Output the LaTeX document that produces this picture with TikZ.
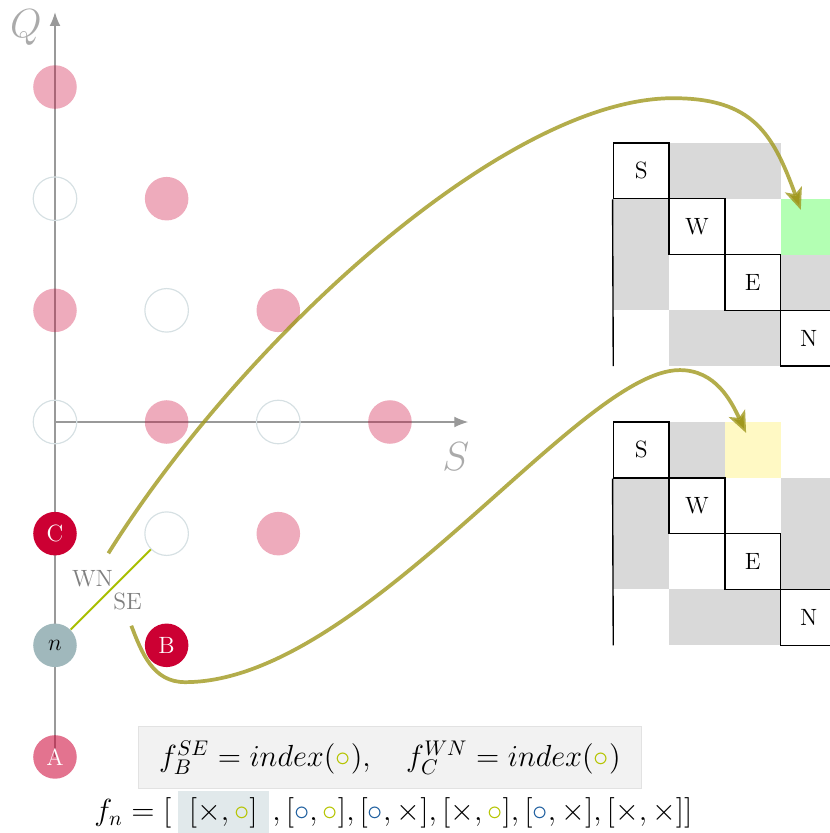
\documentclass[tikz,border=0pt]{standalone}
\usepackage{graphicx}
\usetikzlibrary{arrows.meta}
\definecolor{crim}{RGB}{204,0,51}
\definecolor{ngray}{RGB}{160,184,188}
\definecolor{emptyc}{RGB}{214,224,227}
\definecolor{axisc}{RGB}{153,153,153}
\definecolor{lblc}{RGB}{170,170,170}
\definecolor{olivec}{RGB}{160,152,30}
\definecolor{cellg}{RGB}{217,217,217}
\definecolor{cellgreen}{RGB}{179,255,179}
\definecolor{celly}{RGB}{255,249,196}
\definecolor{linec}{RGB}{168,190,0}
\definecolor{boxf}{RGB}{242,242,242}
\definecolor{boxd}{RGB}{226,226,226}
\definecolor{hlf}{RGB}{225,233,235}
\definecolor{cblue}{RGB}{31,95,159}
\definecolor{cgreen}{RGB}{181,196,0}
\definecolor{wngray}{RGB}{128,128,128}
\begin{document}
\begin{tikzpicture}[
  gpoint/.style={circle, minimum size=0.78cm, inner sep=0pt, font=\large},
  pinkpt/.style={gpoint, fill=crim, fill opacity=0.33},
  emptypt/.style={gpoint, draw=emptyc, line width=0.6pt},
  redpt/.style={gpoint, fill=crim, text=white},
  axis/.style={draw=axisc, line width=0.6pt, -{Latex[length=7pt,width=5.5pt]}},
  axlbl/.style={text=lblc, font=\huge},
  cellbox/.style={draw=black, line width=0.7pt, minimum size=1cm, inner sep=0pt, font=\large},
  curve/.style={draw=olivec, draw opacity=0.8, line width=1.9pt, -{Stealth[length=11pt,width=9pt,inset=2.5pt]}},
  nline/.style={draw=linec, line width=1pt},
  dirlbl/.style={text=wngray, font=\large, inner sep=0pt},
  fbox/.style={fill=boxf, draw=boxd, line width=0.6pt, minimum width=9cm, minimum height=1.1cm, inner sep=0pt, font=\Large},
  hlbox/.style={fill=hlf, minimum width=1.63cm, minimum height=0.79cm, inner sep=0pt, font=\Large},
  plain/.style={inner sep=0pt, font=\Large}
]
\clip (-0.985,-7.362) rectangle (13.88,7.559);
% axes
\coordinate (o) at (0,0);
\coordinate (xe) at (7.4,0);
\coordinate (yb) at (0,-6);
\coordinate (ye) at (0,7.34);
\draw[axis] (o) -- (xe);
\draw[axis] (yb) -- (ye);
\node[axlbl] (ql) at (-0.52,7.06) {$Q$};
\node[axlbl] (sl) at (7.18,-0.62) {$S$};
% lattice points
\node[pinkpt] (p06) at (0,6) {};
\node[emptypt] (e04) at (0,4) {};
\node[pinkpt] (p24) at (2,4) {};
\node[pinkpt] (p02) at (0,2) {};
\node[emptypt] (e22) at (2,2) {};
\node[pinkpt] (p42) at (4,2) {};
\node[emptypt] (e00) at (0,0) {};
\node[pinkpt] (p20) at (2,0) {};
\node[emptypt] (e40) at (4,0) {};
\node[pinkpt] (p60) at (6,0) {};
\node[redpt] (C) at (0,-2) {C};
\node[emptypt] (e2m2) at (2,-2) {};
\node[pinkpt] (p4m2) at (4,-2) {};
\node[gpoint, fill=ngray] (n) at (0,-4) {$n$};
\node[redpt] (B) at (2,-4) {B};
\node[gpoint, fill=crim, fill opacity=0.55, text=white, text opacity=1] (A) at (0,-6) {A};
% SE / WN link
\draw[nline] (n) -- (e2m2);
\node[dirlbl] (wn) at (0.672,-2.81) {WN};
\node[dirlbl] (se) at (1.30,-3.21) {SE};
% top matrix
\fill[cellg] (11,4) rectangle (13,5);
\fill[cellg] (10,2) rectangle (11,4);
\fill[cellg] (13,2) rectangle (14,3);
\fill[cellg] (11,1) rectangle (13,2);
\fill[cellgreen] (13,3) rectangle (14,4);
\node[cellbox] (s1) at (10.5,4.5) {S};
\node[cellbox] (w1) at (11.5,3.5) {W};
\node[cellbox] (e1) at (12.5,2.5) {E};
\node[cellbox] (n1) at (13.5,1.5) {N};
\coordinate (m1bl) at (10,1);
\draw[line width=0.7pt] (s1.south west) -- (m1bl);
% bottom matrix
\fill[cellg] (11,-1) rectangle (12,0);
\fill[cellg] (10,-3) rectangle (11,-1);
\fill[cellg] (13,-3) rectangle (14,-1);
\fill[cellg] (11,-4) rectangle (13,-3);
\fill[celly] (12,-1) rectangle (13,0);
\node[cellbox] (s2) at (10.5,-0.5) {S};
\node[cellbox] (w2) at (11.5,-1.5) {W};
\node[cellbox] (e2) at (12.5,-2.5) {E};
\node[cellbox] (n2) at (13.5,-3.5) {N};
\coordinate (m2bl) at (10,-4);
\draw[line width=0.7pt] (s2.south west) -- (m2bl);
% curves
\coordinate (c1s) at (0.956,-2.352);
\coordinate (c1p) at (11.07,5.80);
\coordinate (c1e) at (13.36,3.80);
\draw[curve] (c1s) .. controls (3.34,1.46) and (8.07,5.8) .. (c1p)
  .. controls (12.5,5.8) and (12.86,5.17) .. (c1e);
\coordinate (c2s) at (1.367,-3.649);
\coordinate (c2b) at (2.33,-4.66);
\coordinate (c2p) at (11.19,0.93);
\coordinate (c2e) at (12.38,-0.197);
\draw[curve] (c2s) .. controls (1.56,-4.15) and (1.76,-4.66) .. (c2b)
  .. controls (5.5,-4.66) and (9.39,0.93) .. (c2p)
  .. controls (11.83,0.93) and (12.11,0.38) .. (c2e);
% formulas
\node[fbox] (fb) at (6,-6.01) {\scalebox{1.08}{$f_B^{SE} = index(\textcolor{cgreen}{\circ}), \quad f_C^{WN} = index(\textcolor{cgreen}{\circ})$}};
\node[hlbox] (hl) at (3.015,-7.0) {\scalebox{1.08}{$[\times,\textcolor{cgreen}{\circ}]$}};
\node[plain, anchor=base east] (fnl) at ([xshift=-0.1cm]hl.base west) {\scalebox{1.08}{$f_n = [$}};
\node[plain, anchor=base west] (rest) at ([xshift=0.05cm]hl.base east) {\scalebox{1.08}{$,[\textcolor{cblue}{\circ},\textcolor{cgreen}{\circ}],[\textcolor{cblue}{\circ},\times],[\times,\textcolor{cgreen}{\circ}],[\textcolor{cblue}{\circ},\times],[\times,\times]]$}};
\end{tikzpicture}
\end{document}
